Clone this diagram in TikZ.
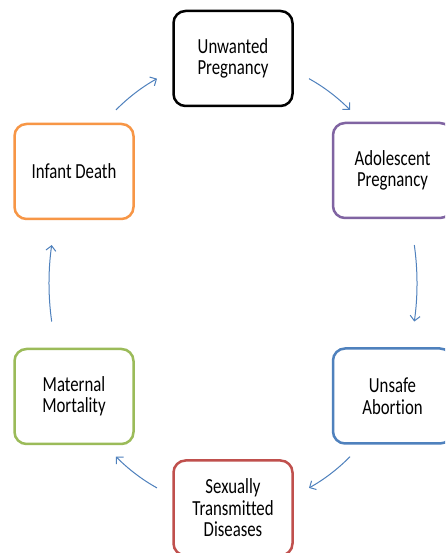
\documentclass[tikz,border=0pt]{standalone}
\usepackage{fontspec}
\newfontfamily\boxfont[FakeStretch=0.78, Ligatures=NoCommon]{Carlito}
\usetikzlibrary{arrows.meta}
\definecolor{cycblue}{HTML}{4F81BD}
\definecolor{cycpurple}{HTML}{8064A2}
\definecolor{cycred}{HTML}{C0504D}
\definecolor{cycgreen}{HTML}{9BBB59}
\definecolor{cycorange}{HTML}{F79646}
\tikzset{
  stage/.style={draw=#1, line width=2.5pt, fill=white, rounded corners=12pt,
    minimum width=119pt, minimum height=95pt, inner sep=0pt, align=center,
    font=\boxfont\fontsize{21.5}{21.5}\selectfont},
  cyc/.style={draw=cycblue, line width=1pt,
    -{Straight Barb[length=5pt,width=10pt]}}
}
\begin{document}
\begin{tikzpicture}[x=1pt,y=1pt]
  \useasboundingbox (0,0) rectangle (445,553);
  \clip (0,0) rectangle (445,553);
  \fill[white] (0,0) rectangle (445,553);

  % stages of the cycle
  \node[stage=black]      (unwanted)   at (233,494.5) {Unwanted\\Pregnancy};
  \node[stage=cycpurple]  (adolescent) at (392.5,382.5) {Adolescent\\Pregnancy};
  \node[stage=cycblue]    (unsafe)     at (392.5,157) {Unsafe\\Abortion};
  \node[stage=cycred]     (std)        at (233,45) {Sexually\\Transmitted\\Diseases};
  \node[stage=cycgreen]   (maternal)   at (74,156.5) {Maternal\\Mortality};
  \node[stage=cycorange]  (infant)     at (74,381.5) {Infant Death};

  % arcs of the cycle, running clockwise round the centre
  \coordinate (c) at (233,269.7);
  \draw[cyc] (c) ++(129.5:184 and 224.7)
    arc[start angle=129.5, end angle=114.4, x radius=184, y radius=224.7];
  \draw[cyc] (c) ++(65.6:184 and 224.7)
    arc[start angle=65.6, end angle=50.5, x radius=184, y radius=224.7];
  \draw[cyc] (c) ++(9.8:184 and 224.7)
    arc[start angle=9.8, end angle=-9.8, x radius=184, y radius=224.7];
  \draw[cyc] (c) ++(-50.5:184 and 224.7)
    arc[start angle=-50.5, end angle=-65.6, x radius=184, y radius=224.7];
  \draw[cyc] (c) ++(-114.4:184 and 224.7)
    arc[start angle=-114.4, end angle=-129.5, x radius=184, y radius=224.7];
  \draw[cyc] (c) ++(189.8:184 and 224.7)
    arc[start angle=189.8, end angle=170.2, x radius=184, y radius=224.7];
\end{tikzpicture}
\end{document}
